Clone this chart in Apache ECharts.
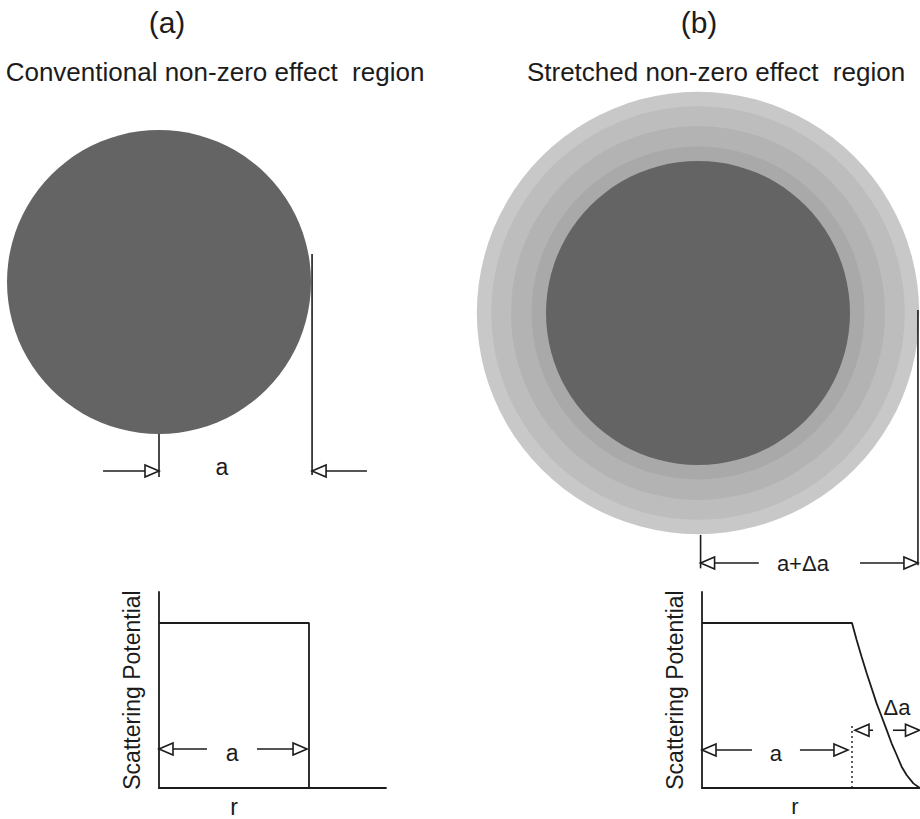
<!DOCTYPE html>
<html><head><meta charset="utf-8">
<script src="https://cdn.jsdelivr.net/npm/echarts@6/dist/echarts.min.js"></script>
<style>html,body{margin:0;padding:0;background:#fff}#c{width:920px;height:819px}</style>
</head><body><div id="c"></div>
<script>
// ================= DATA (lengths in units of the core radius a) =================
const panelTitles = ['(a)', '(b)'];
const panelSubtitles = ['Conventional non-zero effect  region', 'Stretched non-zero effect  region'];

// (a) top: uniform disc of radius a  -> [cx, cy, r]
const discA = [[0, 0, 1.0]];
// (b) top: stretched region as concentric shells, outermost first
const shellRadiiB = [1.455, 1.36, 1.23, 1.095, 1.0];

// dimension marks, top (a): segments [x1,y1,x2,y2], arrows [tailX,tailY,tipX,tipY], labels [x,y]
const dimLinesA = [[0, -1.0, 0, -1.283], [1.007, 0.184, 1.007, -1.27]];
const dimArrowsA = [[-0.368, -1.243, 0, -1.243], [1.368, -1.243, 1.007, -1.243]];
const dimLabelPosA = [[0.414, -1.217]];
const dimLabelTextA = ['a'];

// dimension marks, top (b)
const dimLinesB = [[0.017, -1.46, 0.017, -1.68], [1.447, 0.02, 1.447, -1.66]];
const dimArrowsB = [[0.40, -1.645, 0.017, -1.645], [1.066, -1.645, 1.447, -1.645]];
const dimLabelPosB = [[0.69, -1.645]];
const dimLabelTextB = ['a+Δa'];

// bottom plots: scattering potential vs r
const rA = [0, 1, 1];
const potA = [1, 1, 0];
const rB = [0, 1.0, 1.031, 1.064, 1.098, 1.131, 1.164, 1.198, 1.231, 1.264, 1.298, 1.331, 1.364, 1.409, 1.453];
const potB = [1, 1, 0.897, 0.796, 0.695, 0.604, 0.513, 0.432, 0.352, 0.271, 0.2, 0.129, 0.079, 0.028, 0];

const plotArrowsA = [[0.32, 0.236, 0, 0.236], [0.653, 0.236, 0.987, 0.236]];
const plotLabelPosA = [[0.487, 0.215], [0.5, -0.115]];
const plotLabelTextA = ['a', 'r'];

const plotArrowsB = [[0.333, 0.23, 0, 0.23], [0.653, 0.23, 0.973, 0.23], [1.14, 0.35, 1.02, 0.35], [1.273, 0.35, 1.45, 0.35]];
const plotLabelPosB = [[0.493, 0.21], [1.3, 0.485], [0.62, -0.115]];
const plotLabelTextB = ['a', 'Δa', 'r'];
const dottedB = [[1.0, 0, 1.0, 0.39]];

const yAxisName = 'Scattering Potential';

// ================= STYLE / LAYOUT =================
const FONT = '"Liberation Sans", Arial, Helvetica, sans-serif';
const INK = '#1c1c1c';
const shellColorsB = ['#c8c8c8', '#bdbdbd', '#b3b3b3', '#a9a9a9', '#646464'];
const discColorA = '#646464';

function gridFor(cx, cy, sx, sy, xmin, xmax, ymin, ymax) {
  return {
    grid: { left: cx + xmin * sx, top: cy - ymax * sy, width: (xmax - xmin) * sx, height: (ymax - ymin) * sy, containLabel: false },
    x: { min: xmin, max: xmax }, y: { min: ymin, max: ymax }
  };
}
const TOP_S = 152;
const gTopA = gridFor(159, 282, TOP_S, TOP_S, -1.0, 1.6, -1.4, 1.05);
const gTopB = gridFor(698, 313, TOP_S, TOP_S, -1.5, 1.45, -1.75, 1.5);
const gBotA = gridFor(159, 788, 150, 165, 0, 227 / 150, 0, 196 / 165);
const gBotB = gridFor(702, 788, 150, 165, 0, 218 / 150, 0, 196 / 165);

function hiddenAxis(r, idx) { return { type: 'value', gridIndex: idx, min: r.min, max: r.max, show: false }; }
function shownX(r, idx) {
  return { type: 'value', gridIndex: idx, min: r.min, max: r.max,
    axisLine: { show: true, onZero: false, lineStyle: { color: INK, width: 1.8 } },
    axisTick: { show: false }, axisLabel: { show: false }, splitLine: { show: false } };
}
function shownY(r, idx) {
  return { type: 'value', gridIndex: idx, min: r.min, max: r.max,
    name: yAxisName, nameLocation: 'middle', nameGap: 16, nameRotate: 90,
    nameTextStyle: { fontSize: 23, fontFamily: FONT, color: INK },
    axisLine: { show: true, onZero: false, lineStyle: { color: INK, width: 1.8 } },
    axisTick: { show: false }, axisLabel: { show: false }, splitLine: { show: false } };
}

// ---------- renderers ----------
function discRenderer(colors) {
  return function (params, api) {
    const c = api.coord([api.value(0), api.value(1)]);
    const r = api.size([api.value(2), 0])[0];
    return { type: 'circle', shape: { cx: c[0], cy: c[1], r: r }, style: { fill: colors[params.dataIndex] } };
  };
}
function segRenderer(dash, width) {
  return function (params, api) {
    const p1 = api.coord([api.value(0), api.value(1)]);
    const p2 = api.coord([api.value(2), api.value(3)]);
    return { type: 'line', shape: { x1: p1[0], y1: p1[1], x2: p2[0], y2: p2[1] },
      style: { stroke: INK, lineWidth: width, lineDash: dash } };
  };
}
function arrowRenderer(params, api) {
  const t = api.coord([api.value(0), api.value(1)]);
  const h = api.coord([api.value(2), api.value(3)]);
  const dx = h[0] - t[0], dy = h[1] - t[1], L = Math.hypot(dx, dy);
  const ux = dx / L, uy = dy / L, HL = 14, HW = 6;
  const bx = h[0] - ux * HL, by = h[1] - uy * HL;
  return { type: 'group', children: [
    { type: 'line', shape: { x1: t[0], y1: t[1], x2: bx, y2: by }, style: { stroke: INK, lineWidth: 1.6 } },
    { type: 'polygon', shape: { points: [[h[0], h[1]], [bx - uy * HW, by + ux * HW], [bx + uy * HW, by - ux * HW]] },
      style: { fill: '#fff', stroke: INK, lineWidth: 1.6 } }
  ] };
}
function textRenderer(texts, size) {
  return function (params, api) {
    const p = api.coord([api.value(0), api.value(1)]);
    return { type: 'text', x: p[0], y: p[1],
      style: { text: texts[params.dataIndex], fontSize: size || 23, fontFamily: FONT, fill: INK, align: 'center', verticalAlign: 'middle' } };
  };
}
function custom(idx, data, renderItem, z) {
  return { type: 'custom', xAxisIndex: idx, yAxisIndex: idx, data: data, renderItem: renderItem, clip: false, silent: true, z: z || 2, animation: false };
}
function titleAt(text, cx, top, size) {
  return { text: text, left: cx, top: top, textAlign: 'center', padding: 0,
    textStyle: { fontSize: size, fontWeight: 'normal', color: INK, fontFamily: FONT } };
}

const chart = echarts.init(document.getElementById('c'), null, { renderer: 'svg' });
chart.setOption({
  animation: false,
  backgroundColor: '#fff',
  title: [
    titleAt(panelTitles[0], 167, 7, 30),
    titleAt(panelSubtitles[0], 215, 59, 26),
    titleAt(panelTitles[1], 699, 7, 30),
    titleAt(panelSubtitles[1], 716, 59, 26)
  ],
  grid: [gTopA.grid, gTopB.grid, gBotA.grid, gBotB.grid],
  xAxis: [hiddenAxis(gTopA.x, 0), hiddenAxis(gTopB.x, 1), shownX(gBotA.x, 2), shownX(gBotB.x, 3)],
  yAxis: [hiddenAxis(gTopA.y, 0), hiddenAxis(gTopB.y, 1), shownY(gBotA.y, 2), shownY(gBotB.y, 3)],
  series: [
    custom(0, discA, discRenderer([discColorA]), 1),
    custom(0, dimLinesA, segRenderer(null, 1.6)),
    custom(0, dimArrowsA, arrowRenderer),
    custom(0, dimLabelPosA, textRenderer(dimLabelTextA)),

    custom(1, shellRadiiB.map(function (r) { return [0, 0, r]; }), discRenderer(shellColorsB), 1),
    custom(1, dimLinesB, segRenderer(null, 1.6)),
    custom(1, dimArrowsB, arrowRenderer),
    custom(1, dimLabelPosB, textRenderer(dimLabelTextB, 22)),

    { type: 'line', xAxisIndex: 2, yAxisIndex: 2, data: rA.map(function (r, i) { return [r, potA[i]]; }),
      showSymbol: false, symbol: 'none', lineStyle: { color: INK, width: 1.8 }, clip: false, animation: false },
    custom(2, plotArrowsA, arrowRenderer),
    custom(2, plotLabelPosA, textRenderer(plotLabelTextA)),

    { type: 'line', xAxisIndex: 3, yAxisIndex: 3, data: rB.map(function (r, i) { return [r, potB[i]]; }),
      showSymbol: false, symbol: 'none', lineStyle: { color: INK, width: 1.8 }, clip: false, animation: false },
    custom(3, dottedB, segRenderer([2, 3], 1.4)),
    custom(3, plotArrowsB, arrowRenderer),
    custom(3, plotLabelPosB, textRenderer(plotLabelTextB, 22))
  ]
});
</script>
</body></html>
